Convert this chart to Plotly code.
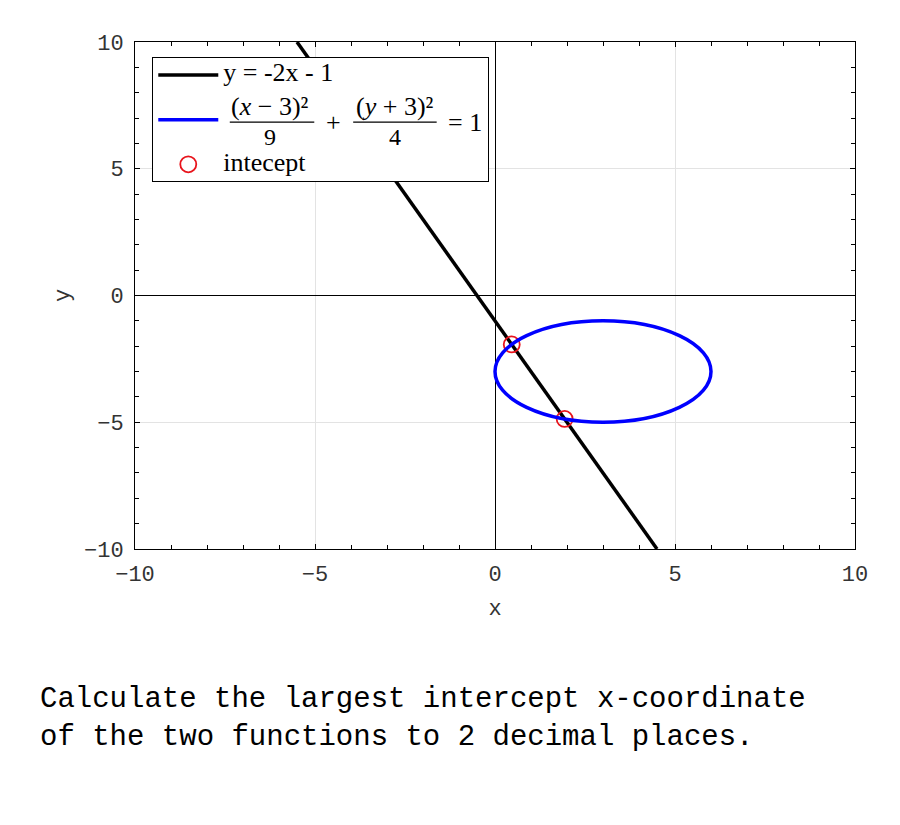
import plotly.graph_objects as go

# Droite y = -2x - 1 (extrémités)
line_x = [-5.5, 4.5]
line_y = [10, -10]

# Ellipse (x-3)^2/9 + (y+3)^2/4 = 1 : boîte englobante
ellipse_x = [0, 6]
ellipse_y = [-5, -1]

# Points d'intersection
inter_x = [0.465, 1.935]
inter_y = [-1.93, -4.87]

axis_range = [-10, 10]
tick_vals = [-10, -5, 0, 5, 10]

# Morceaux de la fraction affichée dans la légende
frac_num = ["(<i>x</i> − 3)²", "(<i>y</i> + 3)²"]
frac_den = ["9", "4"]

mono = "Liberation Mono"
serif = "Liberation Serif"


def big(txt, size=26):
    return "<span style='font-size:%dpx'>%s</span>" % (size, txt)


fig = go.Figure()

fig.add_trace(go.Scatter(
    x=line_x, y=line_y, mode="lines",
    name=big("y = -2x - 1"),
    line=dict(color="black", width=3.5),
))

# entrée de légende pour l'ellipse (la fraction est posée en annotations)
fig.add_trace(go.Scatter(
    x=[None], y=[None], mode="lines",
    name="&nbsp;" * 65 + "<br>&nbsp;<br>&nbsp;",
    line=dict(color="#0000ff", width=3.5),
))

fig.add_shape(
    type="circle", xref="x", yref="y",
    x0=ellipse_x[0], x1=ellipse_x[1], y0=ellipse_y[0], y1=ellipse_y[1],
    line=dict(color="#0000ff", width=3.5),
)

fig.add_trace(go.Scatter(
    x=inter_x, y=inter_y, mode="markers",
    name=big("intecept"),
    marker=dict(symbol="circle-open", size=16, color="#e8141c", line=dict(width=1.8)),
))

axis_style = dict(
    range=axis_range,
    tickvals=tick_vals,
    showgrid=True, gridcolor="#e3e3e3", gridwidth=1,
    zeroline=True, zerolinecolor="black", zerolinewidth=1,
    showline=True, linecolor="black", linewidth=1, mirror="ticks",
    ticks="inside", ticklen=5, tickcolor="black",
    minor=dict(dtick=1, ticks="inside", ticklen=4, tickcolor="black", showgrid=False),
    tickfont=dict(family=mono, size=22, color="#333333"),
)

fig.update_xaxes(**axis_style, ticklabelstandoff=5,
                 title=dict(text="x", font=dict(family=mono, size=22, color="#333333"), standoff=12))
fig.update_yaxes(**axis_style, ticklabelstandoff=6,
                 title=dict(text="y", font=dict(family=mono, size=22, color="#333333"), standoff=8))

# fraction (x-3)^2/9 + (y+3)^2/4 = 1 dans la légende
frac_cx = [0.1875, 0.361]
bar_right = [0.249, 0.419]
bar_len = [86, 85]
bar_y = 0.842
for i in range(2):
    fig.add_annotation(xref="paper", yref="paper", x=frac_cx[i], y=bar_y + 0.031,
                       text=frac_num[i], showarrow=False, xanchor="center", yanchor="middle",
                       font=dict(family=serif, size=26, color="black"))
    fig.add_annotation(xref="paper", yref="paper", x=frac_cx[i], y=bar_y - 0.030,
                       text=frac_den[i], showarrow=False, xanchor="center", yanchor="middle",
                       font=dict(family=serif, size=24, color="black"))
    # trait de fraction (flèche sans pointe)
    fig.add_annotation(xref="paper", yref="paper", x=bar_right[i], y=bar_y,
                       text="", showarrow=True, arrowhead=0, arrowwidth=1.2,
                       arrowcolor="black", ax=-bar_len[i], ay=0, standoff=0, startstandoff=0)
fig.add_annotation(xref="paper", yref="paper", x=0.275, y=bar_y, text="+",
                   showarrow=False, xanchor="center", yanchor="middle",
                   font=dict(family=serif, size=26, color="black"))
fig.add_annotation(xref="paper", yref="paper", x=0.458, y=bar_y, text="= 1",
                   showarrow=False, xanchor="center", yanchor="middle",
                   font=dict(family=serif, size=26, color="black"))

fig.add_annotation(
    xref="paper", yref="paper", x=-0.135, y=-0.260,
    xanchor="left", yanchor="top", align="left", showarrow=False,
    text="Calculate the largest intercept x-coordinate<br>of the two functions to 2 decimal places.",
    font=dict(family=mono, size=29, color="black"),
)

fig.update_layout(
    width=892, height=817,
    margin=dict(l=127, r=45, t=34, b=276),
    plot_bgcolor="white", paper_bgcolor="white",
    showlegend=True,
    legend=dict(
        x=0.024, y=0.97, xanchor="left", yanchor="top",
        bgcolor="white", bordercolor="black", borderwidth=1,
        font=dict(family=serif, size=16, color="black"),
        itemwidth=60,
    ),
)

fig.write_html("out.html")
